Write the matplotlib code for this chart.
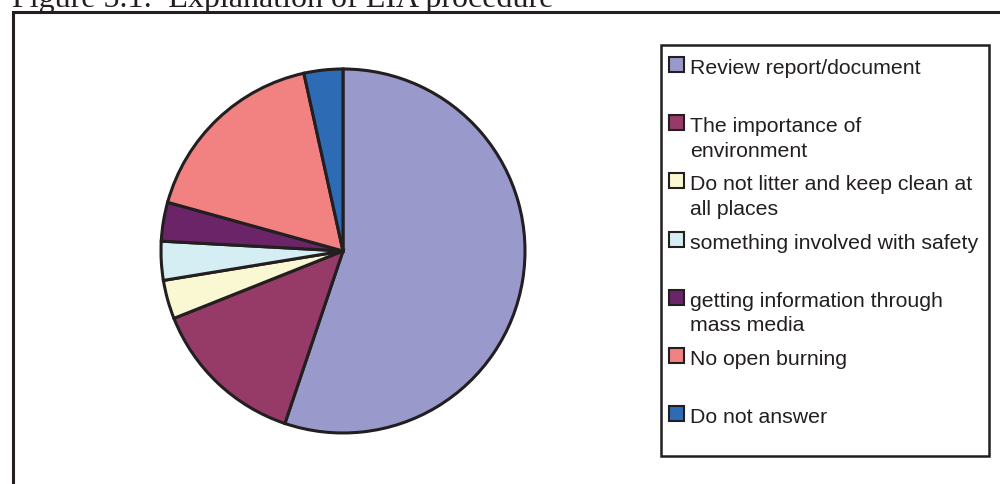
import matplotlib.pyplot as plt
from matplotlib.patches import Rectangle

# survey answers (counts)
labels = ['Review report/document',
          'The importance of\nenvironment',
          'Do not litter and keep clean at\nall places',
          'something involved with safety',
          'getting information through\nmass media',
          'No open burning',
          'Do not answer']
counts = [16, 4, 1, 1, 1, 5, 1]
colors = ['#9a99cc', '#963a68', '#faf8d2', '#d4eef4', '#6b2468', '#f28282', '#2e6bb5']

edge = '#231f20'


def draw_chart():
    fig = plt.figure(figsize=(10, 4.85), dpi=100)

    # title, cut off at the top like the scanned page
    fig.text(0.012, 1 - 7 / 485, 'Figure 5.1:  Explanation of EIA procedure',
             family='Liberation Serif', fontsize=23, va='baseline', ha='left', color=edge)

    # outer frame
    fig.patches.append(Rectangle((0.0125, -0.1), 1.2, 1.1 - 13 / 485, transform=fig.transFigure,
                                 fill=False, lw=2.2, edgecolor=edge))

    ax = fig.add_axes([0.161, 0.1052, 0.364, 0.7505])
    ax.pie(counts, colors=colors, startangle=90, counterclock=False, radius=1,
           wedgeprops=dict(linewidth=2.2, edgecolor=edge))
    ax.set_xlim(-1, 1)
    ax.set_ylim(-1, 1)
    ax.set_aspect('equal')
    ax.axis('off')

    # legend box drawn Excel style
    fig.patches.append(Rectangle((661 / 1000, 1 - 457 / 485), 328 / 1000, 411 / 485,
                                 transform=fig.transFigure, fill=False, lw=1.8, edgecolor=edge))
    for i, (lab, col) in enumerate(zip(labels, colors)):
        y_top = 58 + i * 58.2
        fig.patches.append(Rectangle((669 / 1000, 1 - (y_top + 15) / 485), 15 / 1000, 15 / 485,
                                     transform=fig.transFigure, facecolor=col, lw=1.5, edgecolor=edge))
        fig.text(690 / 1000, 1 - (y_top + 1) / 485, lab, family='Liberation Sans', fontsize=15.3,
                 va='top', ha='left', color=edge, linespacing=1.38)

    fig.savefig('out.png', dpi=100)
    plt.close(fig)


if __name__ == "__main__":
    draw_chart()
